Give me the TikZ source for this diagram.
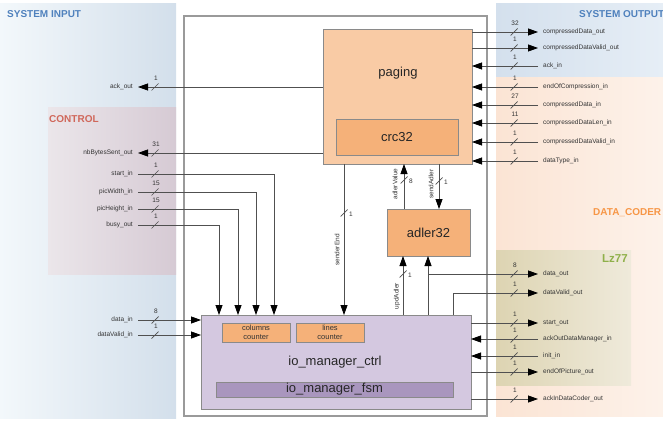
\documentclass[tikz,border=0pt]{standalone}
\usepackage{fontspec}
\setmainfont{Liberation Sans}
\usetikzlibrary{arrows.meta}
\definecolor{linec}{HTML}{505050}
\definecolor{textc}{HTML}{333333}
\definecolor{blkline}{HTML}{8A8A8A}
\definecolor{framec}{HTML}{9A9A9A}
\definecolor{pagefill}{HTML}{F9CBA5}
\definecolor{crcfill}{HTML}{F5B179}
\definecolor{iofill}{HTML}{D4C8E0}
\definecolor{fsmfill}{HTML}{A996BE}
\definecolor{hblue}{HTML}{4F81BD}
\definecolor{hred}{HTML}{D0675A}
\definecolor{horange}{HTML}{F79646}
\definecolor{hgreen}{HTML}{8FB04A}
\definecolor{sysinL}{HTML}{F3F8FB}
\definecolor{sysinR}{HTML}{D3DFEB}
\definecolor{ctrlL}{HTML}{EBE6EA}
\definecolor{ctrlR}{HTML}{D6CAD4}
\definecolor{sysoutL}{HTML}{D4E0ED}
\definecolor{sysoutR}{HTML}{E6EEF6}
\definecolor{dcL}{HTML}{FBE4D4}
\definecolor{dcR}{HTML}{FDF2EA}
\definecolor{lzL}{HTML}{DDD4B2}
\definecolor{lzR}{HTML}{EFEADB}
\newcommand{\buswh}[3]{\draw[linec, line width=0.7pt] (#1-3.5,#2+3.5) -- (#1+3.5,#2-3.5); \node[wl] at (#1+1,#2-9) {#3};}
\newcommand{\buswv}[3]{\draw[linec, line width=0.7pt] (#1-3.5,#2+3.5) -- (#1+3.5,#2-3.5); \node[wl, anchor=west] at (#1+5,#2+1) {#3};}
\begin{document}
\begin{tikzpicture}[x=1pt,y=-1pt,
 conn/.style={draw=linec, line width=0.8pt},
 arr/.style={-{Triangle[length=10pt,width=7pt,color=black]}},
 blk/.style={draw=blkline, line width=0.9pt, inner sep=0pt, outer sep=0pt, anchor=north west},
 blabel/.style={font=\fontsize{13}{15}\selectfont, text=black!85, inner sep=0pt},
 port/.style={font=\fontsize{6.5}{8}\selectfont, text=textc, inner xsep=5pt, inner ysep=1pt},
 pl/.style={port, anchor=east},
 pr/.style={port, anchor=west},
 wl/.style={font=\fontsize{6.5}{8}\selectfont, text=textc, inner sep=0pt},
 hdr/.style={font=\bfseries\fontsize{10}{12}\selectfont, anchor=west, inner sep=0pt},
 rl/.style={font=\fontsize{6.5}{8}\selectfont, text=textc, rotate=90, inner sep=0pt},
 cnt/.style={font=\fontsize{7.5}{8.5}\selectfont, text=textc, align=center, inner sep=0pt}]
\useasboundingbox (0,0) rectangle (663,422);
% regions
\shade[left color=sysinL, right color=sysinR] (0,4) rectangle (176,418);
\shade[left color=ctrlL, right color=ctrlR] (48,108) rectangle (176,274);
\shade[left color=sysoutL, right color=sysoutR] (496,4) rectangle (663,78);
\shade[left color=dcL, right color=dcR] (496,78) rectangle (663,416);
\shade[left color=lzL, right color=lzR] (496,250) rectangle (631,385);
\node[hdr, text=hblue] (hsysin) at (7,14) {SYSTEM INPUT};
\node[hdr, text=hred] (hctrl) at (49,119) {CONTROL};
\node[hdr, text=hblue] (hsysout) at (579,14) {SYSTEM OUTPUT};
\node[hdr, text=horange] (hdc) at (593,213) {DATA\_CODER};
\node[hdr, text=hgreen, font=\bfseries\fontsize{11.5}{13}\selectfont] (hlz) at (602,259) {Lz77};
% frame
\draw[draw=framec, fill=white, line width=1.1pt] (184,16) rectangle (487,416);
% blocks
\node[blk, fill=pagefill, minimum width=149pt, minimum height=135pt] (paging) at (323,29) {};
\node[blabel] (pagingl) at (398,73) {paging};
\node[blk, fill=crcfill, minimum width=122pt, minimum height=36pt] (crc) at (336,119) {};
\node[blabel] (crcl) at (crc.center) {crc32};
\node[blk, fill=crcfill, minimum width=83pt, minimum height=47pt] (adler) at (387,209) {};
\node[blabel] (adlerl) at (adler.center) {adler32};
\node[blk, fill=iofill, minimum width=270pt, minimum height=94pt] (io) at (201,315) {};
\node[blabel] (iol) at (335,362) {io\_manager\_ctrl};
\node[blk, fill=crcfill, minimum width=68pt, minimum height=19pt] (colc) at (222,323) {};
\node[cnt] (colcl) at (colc.center) {columns\\counter};
\node[blk, fill=crcfill, minimum width=68pt, minimum height=19pt] (linc) at (296,323) {};
\node[cnt] (lincl) at (linc.center) {lines\\counter};
\node[blk, fill=fsmfill, minimum width=237pt, minimum height=15pt] (fsm) at (216,382) {};
\node[blabel] (fsml) at (fsm.center) {io\_manager\_fsm};
% left ports
\node[pl] (ackout) at (138,87) {ack\_out};
\node[pl] (nbb) at (138,153) {nbBytesSent\_out};
\node[pl] (startin) at (138,174) {start\_in};
\node[pl] (picw) at (138,192) {picWidth\_in};
\node[pl] (pich) at (138,209) {picHeight\_in};
\node[pl] (busy) at (138,225) {busy\_out};
\node[pl] (datain) at (138,320) {data\_in};
\node[pl] (dvin) at (138,335) {dataValid\_in};
% right ports
\node[pr] (cdo) at (538,32) {compressedData\_out};
\node[pr] (cdvo) at (538,48) {compressedDataValid\_out};
\node[pr] (ackin) at (538,66) {ack\_in};
\node[pr] (eoc) at (538,87) {endOfCompression\_in};
\node[pr] (cdi) at (538,105) {compressedData\_in};
\node[pr] (cdli) at (538,123) {compressedDataLen\_in};
\node[pr] (cdvi) at (538,142) {compressedDataValid\_in};
\node[pr] (dti) at (538,161) {dataType\_in};
\node[pr] (dout) at (538,274) {data\_out};
\node[pr] (dvout) at (538,293) {dataValid\_out};
\node[pr] (sout) at (538,323) {start\_out};
\node[pr] (aodm) at (538,339) {ackOutDataManager\_in};
\node[pr] (initin) at (538,356) {init\_in};
\node[pr] (eop) at (538,372) {endOfPicture\_out};
\node[pr] (aidc) at (538,399) {ackInDataCoder\_out};
% left connectors
\draw[conn, arr] (paging.west |- ackout) -- (ackout.east);
\draw[conn, arr] (paging.west |- nbb) -- (nbb.east);
\draw[conn, arr] (startin.east) -| ([xshift=73pt]io.north west);
\draw[conn, arr] (picw.east) -| ([xshift=55pt]io.north west);
\draw[conn, arr] (pich.east) -| ([xshift=37pt]io.north west);
\draw[conn, arr] (busy.east) -| ([xshift=18pt]io.north west);
\draw[conn, arr] (datain.east) -- (io.west |- datain);
\draw[conn, arr] (dvin.east) -- (io.west |- dvin);
% internal connectors
\draw[conn, arr] ([xshift=21pt]paging.south west) -- ([xshift=143pt]io.north west);
\coordinate (av) at ([xshift=17pt]adler.north west);
\coordinate (sa) at ([xshift=52pt]adler.north west);
\draw[conn, arr] (av) -- (av |- paging.south);
\draw[conn, arr] (sa |- paging.south) -- (sa);
\draw[conn, arr] ([xshift=202pt]io.north west) -- ([xshift=16pt]adler.south west);
\coordinate (dob) at ([xshift=227pt]io.north west);
\draw[conn, arr] (dob) -- ([xshift=41pt]adler.south west);
\draw[conn, arr] (dob |- dout) -- (dout.west);
\draw[conn, arr] ([xshift=252pt]io.north west) |- (dvout.west);
% right connectors
\draw[conn, arr] (paging.east |- cdo) -- (cdo.west);
\draw[conn, arr] (paging.east |- cdvo) -- (cdvo.west);
\draw[conn, arr] (ackin.west) -- (paging.east |- ackin);
\draw[conn, arr] (eoc.west) -- (paging.east |- eoc);
\draw[conn, arr] (cdi.west) -- (paging.east |- cdi);
\draw[conn, arr] (cdli.west) -- (paging.east |- cdli);
\draw[conn, arr] (cdvi.west) -- (paging.east |- cdvi);
\draw[conn, arr] (dti.west) -- (paging.east |- dti);
\draw[conn, arr] (io.east |- sout) -- (sout.west);
\draw[conn, arr] (aodm.west) -- (io.east |- aodm);
\draw[conn, arr] (initin.west) -- (io.east |- initin);
\draw[conn, arr] (io.east |- eop) -- (eop.west);
\draw[conn, arr] (io.east |- aidc) -- (aidc.west);
% bus widths left
\buswh{155}{87}{1}
\buswh{155}{153}{31}
\buswh{155}{174}{1}
\buswh{155}{192}{15}
\buswh{155}{209}{15}
\buswh{155}{225}{1}
\buswh{155}{320}{8}
\buswh{155}{335}{1}
% bus widths right
\buswh{514}{32}{32}
\buswh{514}{48}{1}
\buswh{514}{66}{1}
\buswh{514}{87}{1}
\buswh{514}{105}{27}
\buswh{514}{123}{11}
\buswh{514}{142}{1}
\buswh{514}{161}{1}
\buswh{514}{274}{8}
\buswh{514}{293}{1}
\buswh{514}{323}{1}
\buswh{514}{339}{1}
\buswh{514}{356}{1}
\buswh{514}{372}{1}
\buswh{514}{399}{1}
% vertical bus widths
\buswv{344}{213}{1}
\buswv{404}{180}{8}
\buswv{439}{181}{1}
\buswv{403}{274}{1}
% rotated signal names
\node[rl] (lse) at (337,250) {senderEnd};
\node[rl] (lav) at (395,184) {adlerValue};
\node[rl] (lsa) at (431,184) {sendAdler};
\node[rl] (lua) at (397,296) {updAdler};
\end{tikzpicture}
\end{document}
